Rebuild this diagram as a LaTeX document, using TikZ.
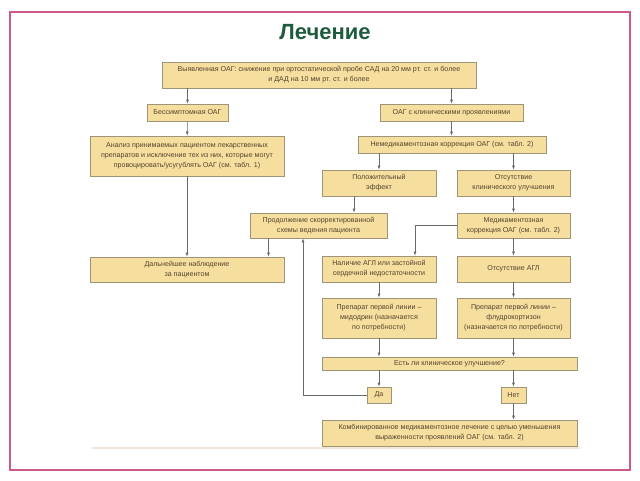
\documentclass[tikz,border=0pt]{standalone}
\usepackage{fontspec}
\setmainfont{Liberation Sans}
\usepackage{xcolor}
\usepackage{tikz}
\usetikzlibrary{positioning, arrows.meta}

\definecolor{boxfill}{HTML}{F5DE9E}
\definecolor{boxline}{HTML}{9E9478}
\definecolor{boxtext}{HTML}{54442F}
\definecolor{linegray}{HTML}{6A6A6A}
\definecolor{framepink}{HTML}{CC5A8C}
\definecolor{titlegreen}{HTML}{1E5B3C}
\definecolor{rulebeige}{HTML}{F3E6D6}

\begin{document}
\begin{tikzpicture}[x=1pt, y=-1pt,
  blk/.style={rectangle, draw=boxline, fill=boxfill, line width=0.7pt, inner sep=1pt,
    align=center, text=boxtext, font=\fontsize{7.1}{10}\selectfont},
  arr/.style={-{Latex[length=4pt, width=3pt]}, line width=0.6pt, draw=linegray},
  lin/.style={line width=0.6pt, draw=linegray}
]
\useasboundingbox (0,0) rectangle (640,480);

% --- Slide frame and title ---
\draw[framepink, line width=1.5pt] (10,12) rectangle (630,470);
\node[font=\bfseries\fontsize{22}{26}\selectfont, text=titlegreen] (title) at (325,32) {Лечение};
\draw[rulebeige, line width=1.5pt] (92,448) -- (580,448);

% --- Top ---
\node[blk, minimum width=314pt, minimum height=26pt] (found) at (319,75)
  {Выявленная ОАГ: снижение при ортостатической пробе САД на 20 мм рт. ст. и более\\и ДАД на 10 мм рт. ст. и более};
\node[blk, minimum width=81pt, minimum height=17pt] (asym) at (187.5,112.5) {Бессимптомная ОАГ};
\node[blk, minimum width=143pt, minimum height=17pt] (clin) at (451.5,112.5) {ОАГ с клиническими проявлениями};

% --- Left branch ---
\node[blk, minimum width=194pt, minimum height=40pt] (drugs) at (187,156)
  {Анализ принимаемых пациентом лекарственных\\препаратов и исключение тех из них, которые могут\\провоцировать/усугублять ОАГ (см. табл. 1)};
\node[blk, minimum width=194pt, minimum height=25pt] (watch) at (187,269.5)
  {Дальнейшее наблюдение\\за пациентом};

% --- Right branch ---
\node[blk, minimum width=188pt, minimum height=17pt] (nondrug) at (452,144.5) {Немедикаментозная коррекция ОАГ (см. табл. 2)};
\node[blk, minimum width=114pt, minimum height=26pt] (posit) at (379,183) {Положительный\\эффект};
\node[blk, minimum width=113pt, minimum height=26pt] (noimp) at (513.5,183) {Отсутствие\\клинического улучшения};
\node[blk, minimum width=137pt, minimum height=25pt] (cont) at (318.5,225.5) {Продолжение скорректированной\\схемы ведения пациента};
\node[blk, minimum width=113pt, minimum height=25pt] (medcor) at (513.5,225.5) {Медикаментозная\\коррекция ОАГ (см. табл. 2)};
\node[blk, minimum width=114pt, minimum height=26pt] (hfail) at (379,269) {Наличие АГЛ  или застойной\\сердечной недостаточности};
\node[blk, minimum width=113pt, minimum height=26pt] (nohyp) at (513.5,269) {Отсутствие АГЛ};
\node[blk, minimum width=114pt, minimum height=40pt] (midod) at (379,318) {Препарат первой линии –\\мидодрин (назначается\\по потребности)};
\node[blk, minimum width=113pt, minimum height=40pt] (fludro) at (513.5,318) {Препарат первой линии –\\флудрокортизон\\(назначается по потребности)};
\node[blk, minimum width=255pt, minimum height=13pt] (ask) at (449.5,363.5) {Есть ли клиническое улучшение?};
\node[blk, minimum width=24pt, minimum height=16pt] (yes) at (379,395) {Да};
\node[blk, minimum width=25pt, minimum height=16pt] (no) at (513.5,395) {Нет};
\node[blk, minimum width=255pt, minimum height=26pt] (combo) at (449.5,433)
  {Комбинированное медикаментозное лечение с целью уменьшения\\выраженности проявлений ОАГ (см. табл. 2)};

% --- Connectors ---
\draw[arr] (found.south -| asym) -- (asym.north);
\draw[arr] (found.south -| clin) -- (clin.north);
\draw[arr] (asym) -- (drugs);
\draw[arr] (clin) -- (clin |- nondrug.north);
\draw[arr] (drugs) -- (watch);
\draw[arr] (nondrug.south -| posit) -- (posit.north);
\draw[arr] (nondrug.south -| noimp) -- (noimp.north);
\draw[arr] ([xshift=-25pt]posit.south) -- ([xshift=-25pt]posit.south |- cont.north);
\draw[arr] (noimp) -- (medcor);
\draw[arr] ([xshift=-50pt]cont.south) -- ([xshift=-50pt]cont.south |- watch.north);
\draw[arr] (medcor.west) -| ([xshift=36pt]hfail.north);
\draw[arr] (medcor) -- (nohyp);
\draw[arr] (hfail) -- (midod);
\draw[arr] (nohyp) -- (fludro);
\draw[arr] (midod.south) -- (midod.south |- ask.north);
\draw[arr] (fludro.south) -- (fludro.south |- ask.north);
\draw[arr] (ask.south -| yes) -- (yes.north);
\draw[arr] (ask.south -| no) -- (no.north);
\draw[arr] (no) -- (no |- combo.north);
\draw[arr] (yes.west) -| ([xshift=-15.5pt]cont.south);

\end{tikzpicture}
\end{document}
